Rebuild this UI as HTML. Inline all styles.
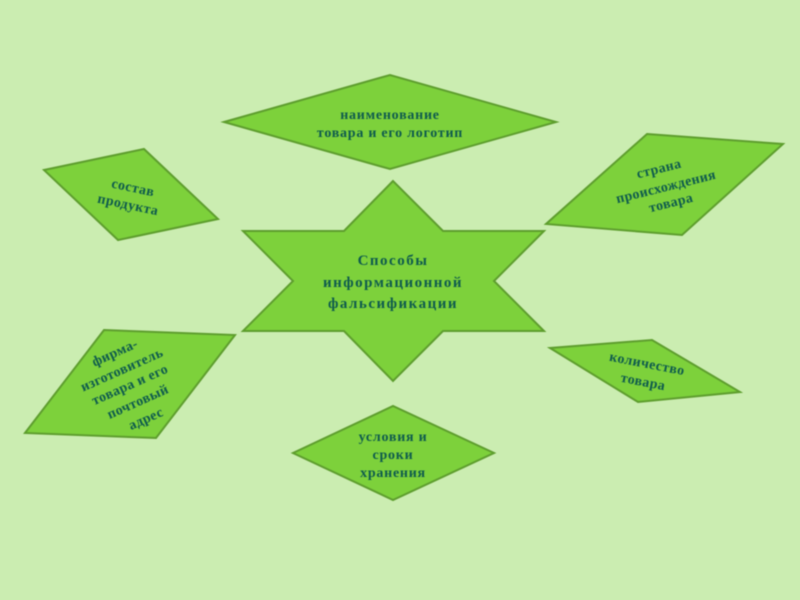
<!DOCTYPE html>
<html><head><meta charset="utf-8"><style>
html,body{margin:0;padding:0;width:800px;height:600px;overflow:hidden;background:#cbedb1}
svg{display:block;filter:blur(.45px)}
polygon{fill:#7dd13b;stroke:#5e9e2e;stroke-width:2;stroke-linejoin:miter}
text{font-family:"Liberation Serif",serif;font-weight:bold;fill:#0f5c4d;text-anchor:middle;font-size:14px;letter-spacing:.75px}
.c{font-size:15px;letter-spacing:1.5px}
.r{letter-spacing:.4px}
</style></head><body>
<svg width="800" height="600" viewBox="0 0 800 600" xmlns="http://www.w3.org/2000/svg">
<rect width="800" height="600" fill="#cbedb1"/>
<polygon points="224,122 390,75 556,122 390,169"/>
<polygon points="393,181 344,231 243,231 293,281 243,331 344,331 393,381 443,331 544,331 494,281 544,231 443,231"/>
<polygon points="44,170 144,149 218,219 118,240"/>
<polygon points="104,330 235,335 156,438 25,433"/>
<polygon points="647,134 783,144 682,235 546,224"/>
<polygon points="550,348 652,340 740,392 638,402"/>
<polygon points="293,453 393,406 494,453 393,500"/>

<text x="390" y="119">наименование</text>
<text x="390" y="137">товара и его логотип</text>

<text class="c" x="393" y="265">Способы</text>
<text class="c" x="393" y="287">информационной</text>
<text class="c" x="393" y="308">фальсификации</text>

<text x="393" y="441">условия и</text>
<text x="393" y="459">сроки</text>
<text x="393" y="477">хранения</text>

<text class="r" transform="rotate(12 133 188)" x="133" y="192">состав</text>
<text class="r" transform="rotate(12 128 205)" x="128" y="209">продукта</text>

<text class="r" transform="rotate(-24 115 353)" x="115" y="357">фирма-</text>
<text class="r" transform="rotate(-24 122 370)" x="122" y="374">изготовитель</text>
<text class="r" transform="rotate(-24 130 385)" x="130" y="389">товара и его</text>
<text class="r" transform="rotate(-24 138 402)" x="138" y="406">почтовый</text>
<text class="r" transform="rotate(-24 146 419)" x="146" y="423">адрес</text>

<text class="r" transform="rotate(-14 659 169)" x="659" y="173">страна</text>
<text class="r" transform="rotate(-14 666 187)" x="666" y="191">происхождения</text>
<text class="r" transform="rotate(-14 671 203)" x="671" y="207">товара</text>

<text class="r" transform="rotate(11 647 364)" x="647" y="368">количество</text>
<text class="r" transform="rotate(11 643 382)" x="643" y="386">товара</text>
</svg>
</body></html>
